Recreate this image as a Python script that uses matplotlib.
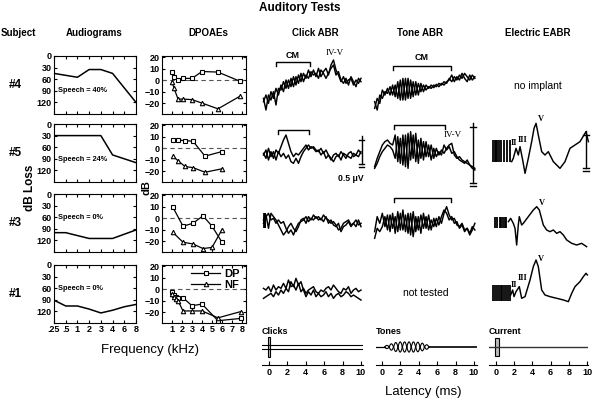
import numpy as np
import matplotlib.pyplot as plt

plt.rcParams.update({'font.family': ['Liberation Sans', 'DejaVu Sans'],
                     'font.weight': 'bold', 'font.size': 7, 'axes.linewidth': 0.8})

# ---------------- audiograms (dB loss per test frequency index) ----------------
aud_labels = ['.25', '.5', '1', '2', '3', '4', '6', '8']
aud4_idx = [0, 2, 3, 4, 5, 7]
aud4_db = [45, 55, 35, 35, 45, 120]
aud5_idx = [0, 4, 5, 7]
aud5_db = [30, 30, 80, 100]
aud3_idx = [0, 1, 3, 5, 7]
aud3_db = [100, 100, 115, 115, 93]
aud1_idx = [0, 1, 2, 3, 4, 5, 6, 7]
aud1_db = [91, 106, 106, 114, 124, 117, 108, 102]
speech = ['40%', '24%', '0%', '0%']
subjects = ['#4', '#5', '#3', '#1']

# ---------------- DPOAEs (f2 kHz, DP level and noise floor dB) ----------------
dp4_f = [1.0, 1.2, 1.6, 2.1, 3.0, 4.0, 5.6, 7.8]
dp4_dp = [7.5, 2.5, 0.5, 1.5, 1.5, 7.5, 7.0, -1.0]
dp4_nf = [-1.5, -7, -16.5, -16.5, -17, -20, -25, -14]
dp5_f = [1.1, 1.6, 2.3, 3.1, 4.3, 6.0]
dp5_dp = [7, 7, 6.5, 6, -7, -3]
dp5_nf = [-7, -11, -16, -17, -21, -18]
dp3_f = [1.1, 2.1, 3.1, 4.1, 5.0, 6.0]
dp3_dp = [9.3, -7, -4.5, 2, -7, -21]
dp3_nf = [-12.5, -21, -22.5, -26.5, -25.5, -10]
dp1_f = [1.0, 1.2, 1.4, 1.6, 2.1, 3.0, 4.0, 5.6, 7.9]
dp1_dp = [-2.5, -5, -7, -8, -7.5, -14.5, -13, -27.5, -25.5]
dp1_nf = [-4, -7, -8.5, -10, -19, -19, -19, -25, -19.5]

# ---------------- ABR traces: depth readings (3 units per px, larger = more negative) --------
click_t = np.linspace(-0.6, 10.0, 40)
tone_t = np.linspace(-0.8, 10.1, 40)
click4_a = [160, 195, 150, 165, 140, 180, 130, 135, 110, 130, 105, 125, 95, 120, 90, 110, 85, 100, 75, 95,
            75, 95, 70, 95, 80, 70, 90, 60, 45, 75, 90, 110, 95, 115, 105, 100, 120, 105, 115, 100]
click4_b = [170, 150, 175, 140, 160, 130, 150, 120, 140, 105, 130, 100, 125, 95, 115, 85, 110, 90, 100, 80,
            90, 85, 100, 75, 85, 100, 85, 70, 60, 90, 80, 105, 115, 100, 120, 95, 110, 125, 100, 110]
click5_a = [330, 315, 345, 320, 340, 315, 325, 305, 285, 270, 295, 320, 335, 325, 330, 320, 310, 300, 315, 305,
            310, 320, 315, 330, 320, 340, 330, 345, 330, 325, 335, 320, 330, 340, 325, 320, 335, 330, 315, 325]
click5_b = [325, 340, 310, 335, 320, 345, 320, 335, 325, 340, 330, 350, 355, 340, 355, 335, 320, 310, 300, 310,
            305, 315, 320, 310, 325, 315, 330, 340, 350, 335, 330, 345, 325, 330, 335, 340, 325, 330, 335, 320]
click3_a = [150, 135, 175, 130, 140, 150, 165, 180, 195, 185, 170, 160, 175, 185, 170, 150, 145, 160, 140, 150,
            135, 145, 140, 150, 135, 145, 150, 160, 155, 165, 180, 175, 160, 155, 150, 165, 160, 150, 165, 160]
click3_b = [160, 140, 130, 150, 145, 160, 150, 160, 155, 175, 190, 180, 195, 175, 160, 155, 150, 140, 155, 145,
            150, 140, 150, 145, 155, 140, 160, 150, 165, 170, 160, 185, 170, 165, 155, 170, 160, 170, 150, 170]
click1_a = [355, 360, 350, 365, 345, 360, 350, 355, 340, 355, 330, 350, 345, 360, 340, 365, 355, 370, 360, 355,
            350, 365, 370, 360, 365, 355, 350, 360, 345, 355, 365, 370, 355, 360, 350, 370, 360, 355, 365, 360]
click1_b = [385, 380, 375, 370, 380, 365, 375, 360, 370, 355, 365, 335, 350, 325, 345, 335, 360, 380, 365, 375,
            360, 380, 370, 380, 375, 365, 380, 370, 385, 375, 370, 380, 375, 365, 370, 380, 375, 380, 385, 390]
tone4_a = [170, 195, 150, 160, 140, 145, 125, 150, 120, 160, 105, 165, 100, 160, 105, 155, 110, 150, 115, 140,
           120, 130, 120, 128, 118, 125, 115, 120, 110, 105, 90, 110, 95, 105, 85, 100, 110, 90, 105, 95]
tone4_b = [190, 160, 175, 135, 150, 130, 150, 120, 155, 110, 165, 100, 165, 100, 160, 110, 150, 115, 140, 120,
           135, 125, 130, 120, 125, 115, 120, 110, 115, 100, 110, 95, 105, 90, 100, 85, 95, 105, 90, 100]
tone5_a = [365, 340, 320, 300, 290, 285, 295, 300, 270, 350, 280, 360, 270, 370, 260, 340, 265, 355, 280, 345,
           290, 335, 300, 340, 310, 330, 315, 325, 310, 300, 295, 330, 340, 335, 345, 350, 355, 360, 365, 370]
tone5_b = [370, 355, 335, 320, 310, 300, 305, 315, 340, 275, 355, 270, 365, 265, 345, 270, 350, 285, 340, 290,
           335, 300, 345, 310, 335, 320, 330, 300, 315, 305, 325, 320, 335, 345, 350, 355, 345, 360, 370, 375]
tone3_a = [185, 140, 160, 130, 170, 135, 185, 130, 190, 125, 180, 120, 185, 130, 195, 125, 185, 140, 190, 130,
           175, 135, 180, 145, 170, 140, 160, 130, 110, 135, 150, 145, 165, 170, 160, 180, 175, 190, 170, 180]
tone3_b = [205, 175, 185, 170, 140, 180, 135, 175, 140, 185, 130, 180, 135, 190, 130, 200, 140, 180, 135, 175,
           140, 180, 150, 170, 145, 165, 140, 120, 130, 150, 140, 160, 155, 175, 165, 185, 175, 195, 180, 160]

# ---------------- electric ABR (latency ms, depth readings) ----------------
eabr5_t = [1.72, 1.90, 2.20, 2.45, 2.64, 2.93, 3.19, 3.55, 3.92, 4.18, 4.40, 4.65, 5.02, 5.38, 5.75,
           6.30, 7.03, 7.58, 8.13, 8.68, 9.23, 9.67, 9.89, 10.15]
eabr5_v = [350, 340, 310, 330, 305, 345, 385, 340, 290, 250, 235, 270, 320, 330, 320,
           350, 370, 350, 310, 300, 290, 270, 260, 290]
eabr3_t = [1.36, 1.61, 1.90, 2.09, 2.27, 2.45, 2.56, 2.82, 3.00, 3.55, 4.10, 4.47, 4.76, 5.20, 5.57,
           5.93, 6.30, 6.67, 7.03, 7.40, 7.77, 8.32, 8.86, 9.41, 9.96]
eabr3_v = [155, 145, 160, 175, 225, 165, 140, 165, 160, 140, 120, 110, 120, 165, 180,
           185, 180, 190, 185, 195, 210, 220, 225, 220, 230]
eabr1_t = [1.61, 1.83, 1.98, 2.20, 2.56, 2.82, 3.19, 3.74, 4.10, 4.40, 4.65, 5.02, 5.38, 5.93, 6.67,
           7.40, 7.95, 8.32, 8.68, 9.23, 9.60, 9.89, 10.04]
eabr1_v = [375, 360, 380, 365, 350, 385, 380, 330, 290, 270, 290, 360, 375, 380, 385,
           390, 395, 370, 350, 335, 320, 310, 315]
art5_t = [-0.3, -0.15, 0.0, 0.15, 0.3, 0.6, 0.9, 1.2, 1.5]
art3_t = [-0.1, 0.15, 0.4, 0.6, 0.8, 1.0, 1.15]
art1_t = [-0.3, -0.1, 0.1, 0.3, 0.5, 0.7, 0.9, 1.1, 1.3, 1.5]
artc3_t = [-0.55, -0.48, -0.41]

# ---------------- stimuli ----------------
tone_lobes = [0.1, 0.2, 0.28, 0.32, 0.32, 0.32, 0.32, 0.3, 0.24, 0.14]
lat_ticks = [0, 2, 4, 6, 8, 10]

W, H = 594, 400
fig = plt.figure(figsize=(W / 100, H / 100), dpi=100)


def add_ax(x0, y0, x1, y1):
    return fig.add_axes([x0 / W, 1 - y1 / H, (x1 - x0) / W, (y1 - y0) / H])


def ftext(x, y, s, **kw):
    kw.setdefault('ha', 'center')
    kw.setdefault('va', 'center')
    fig.text(x / W, 1 - y / H, s, **kw)


# headers
ftext(300, 8, 'Auditory Tests', fontsize=8.5)
for x, s in [(18, 'Subject'), (94, 'Audiograms'), (208, 'DPOAEs'), (315, 'Click ABR'),
             (420, 'Tone ABR'), (538, 'Electric EABR')]:
    ftext(x, 33, s, fontsize=7)

boxes = [(56, 114), (124, 182), (194, 252), (265, 323)]
aud = [(aud4_idx, aud4_db), (aud5_idx, aud5_db), (aud3_idx, aud3_db), (aud1_idx, aud1_db)]
dpo = [(dp4_f, dp4_dp, dp4_nf), (dp5_f, dp5_dp, dp5_nf), (dp3_f, dp3_dp, dp3_nf), (dp1_f, dp1_dp, dp1_nf)]
speech_y = [90, 92, 60, 60]

for i, (top, bot) in enumerate(boxes):
    last = i == 3
    ftext(15, (top + bot) / 2, subjects[i], fontsize=8.5)
    # audiogram
    ax = add_ax(54, top, 136, bot)
    ax.plot(aud[i][0], aud[i][1], color='k', lw=1.1)
    ax.set_xlim(0, 7)
    ax.set_ylim(150, 0)
    ax.set_xticks(range(8))
    ax.set_xticklabels(aud_labels if last else [])
    ax.set_yticks([0, 30, 60, 90, 120])
    ax.tick_params(direction='in', length=2.5, top=True, right=True, labelsize=6.5, pad=1.5)
    ax.text(0.3, speech_y[i], 'Speech = ' + speech[i], fontsize=5.3, va='center')
    # DPOAE
    ax = add_ax(162, top, 246, bot)
    f, dp, nf = dpo[i]
    ax.axhline(0, color='#555555', ls='--', lw=0.8, dashes=(4, 3))
    ax.plot(f, dp, color='k', lw=0.9, marker='s', ms=3.2, mfc='white', mew=0.8, label='DP')
    ax.plot(f, nf, color='k', lw=0.9, marker='^', ms=3.2, mfc='white', mew=0.8, label='NF')
    ax.set_xlim(0, 8.4)
    ax.set_ylim(-29.5, 21)
    ax.set_xticks(range(1, 9))
    if not last:
        ax.set_xticklabels([])
    ax.set_yticks([20, 10, 0, -10, -20])
    ax.tick_params(direction='in', length=2.5, top=True, right=True, labelsize=6.5, pad=1.5)
    if last:
        ax.legend(loc='upper right', bbox_to_anchor=(1.02, 1.06), frameon=False, fontsize=8,
                  handlelength=2.6, handletextpad=0.4, labelspacing=0.05, borderpad=0.2)

ftext(30, 188, 'dB Loss', fontsize=8.5, rotation=90)
ftext(146, 188, 'dB', fontsize=8, rotation=90)
ftext(150, 350, 'Frequency (kHz)', fontsize=9.5, fontweight='normal')

# ---------------- ABR panels ----------------
cols = {'click': (262, 363, -0.76, 10.22), 'tone': (376, 477, -0.65, 10.33),
        'eabr': (489, 588, -0.77, 10.11)}
rows = {4: (40, 120), 5: (118, 190), 3: (190, 258), 1: (258, 322)}
PX_UV = 48.0
serif = ['Liberation Serif', 'DejaVu Serif']


def trace_ax(col, row, base_px):
    x0, x1, t0, t1 = cols[col]
    top, bot = rows[row]
    ax = add_ax(x0, top, x1, bot)
    ax.set_xlim(t0, t1)
    ax.set_ylim((base_px - bot) / PX_UV, (base_px - top) / PX_UV)
    ax.axis('off')
    return ax


def amp(depth, zero):
    return (zero - np.asarray(depth, float)) / (3 * PX_UV)


def draw(ax, t, depth, zero, lw=1.05):
    ax.plot(t, amp(depth, zero), color='k', lw=lw, clip_on=False)


def bracket(ax, t0, t1, y, drop=0.08):
    ax.plot([t0, t0, t1, t1], [y - drop, y, y, y - drop], color='k', lw=1.0, clip_on=False)


def scalebar(ax, t, ytop, ybot):
    ax.plot([t, t], [ybot, ytop + 0.08], color='k', lw=1.0, clip_on=False)
    for y in (ytop, ybot, ybot - 0.06):
        ax.plot([t - 0.3, t + 0.3], [y, y], color='k', lw=1.0, clip_on=False)


def artifact(ax, ts, lo, hi):
    ax.vlines(ts, lo, hi, color='k', lw=1.3)


# click ABR
ax = trace_ax('click', 4, 85)
draw(ax, click_t, click4_a, 120)
draw(ax, click_t, click4_b, 120)
bracket(ax, 0.73, 4.46, 0.48)
ax.text(2.6, 0.62, 'CM', ha='center', va='center', fontsize=6.5)
ax.text(7.1, 0.66, 'IV-V', ha='center', va='center', fontsize=6.5, family=serif, fontweight='normal')

ax = trace_ax('click', 5, 155)
draw(ax, click_t, click5_a, 330)
draw(ax, click_t, click5_b, 330)
bracket(ax, 0.95, 4.3, 0.52)
scalebar(ax, 10.08, 0.31, -0.19)
ax.text(8.9, -0.48, '0.5 μV', ha='center', va='center', fontsize=6.2)

ax = trace_ax('click', 3, 223.3)
artifact(ax, artc3_t, -0.10, 0.21)
draw(ax, click_t, click3_a, 160)
draw(ax, click_t, click3_b, 160)

ax = trace_ax('click', 1, 291.7)
draw(ax, click_t, click1_a, 365)
draw(ax, click_t, click1_b, 365)

# tone ABR
ax = trace_ax('tone', 4, 91.7)
draw(ax, tone_t, tone4_a, 140)
draw(ax, tone_t, tone4_b, 140)
bracket(ax, 1.2, 7.5, 0.54)
ax.text(4.3, 0.71, 'CM', ha='center', va='center', fontsize=6.5)

ax = trace_ax('tone', 5, 155)
draw(ax, tone_t, tone5_a, 330)
draw(ax, tone_t, tone5_b, 330)
bracket(ax, 1.3, 6.9, 0.63)
scalebar(ax, 9.9, 0.58, -0.58)
ax.text(7.7, 0.42, 'IV-V', ha='center', va='center', fontsize=6.5, family=serif, fontweight='normal')

ax = trace_ax('tone', 3, 223.3)
draw(ax, tone_t, tone3_a, 160)
draw(ax, tone_t, tone3_b, 160)
bracket(ax, 1.3, 7.45, 0.53)

ax = trace_ax('tone', 1, 291.7)
ax.text(4.8, -0.02, 'not tested', ha='center', va='center', fontsize=7.5, fontweight='normal')

# electric ABR
ax = trace_ax('eabr', 4, 85)
ax.text(4.6, -0.02, 'no implant', ha='center', va='center', fontsize=7.5, fontweight='normal')

ax = trace_ax('eabr', 5, 155)
artifact(ax, art5_t, -0.14, 0.31)
draw(ax, eabr5_t, eabr5_v, 330)
scalebar(ax, 9.9, 0.42, -0.27)
for t, y, s in [(2.0, 0.25, 'II'), (2.95, 0.32, 'III'), (4.95, 0.74, 'V')]:
    ax.text(t, y, s, ha='center', va='center', fontsize=6, family=serif)

ax = trace_ax('eabr', 3, 225)
artifact(ax, art3_t, -0.07, 0.17)
draw(ax, eabr3_t, eabr3_v, 165)
ax.text(5.0, 0.46, 'V', ha='center', va='center', fontsize=6, family=serif)

ax = trace_ax('eabr', 1, 293.3)
artifact(ax, art1_t, -0.17, 0.17)
draw(ax, eabr1_t, eabr1_v, 370)
for t, y, s in [(2.0, 0.17, 'II'), (2.95, 0.31, 'III'), (4.95, 0.72, 'V')]:
    ax.text(t, y, s, ha='center', va='center', fontsize=6, family=serif)

# ---------------- stimulus row ----------------
def stim_ax(col, label):
    x0, x1, t0, t1 = cols[col]
    ax = add_ax(x0, 322, x1, 365)
    ax.set_xlim(t0, t1)
    ax.set_ylim((347 - 365) / 16, (347 - 322) / 16)
    for s in ('top', 'left', 'right'):
        ax.spines[s].set_visible(False)
    ax.set_yticks([])
    ax.set_xticks(lat_ticks)
    ax.tick_params(axis='x', direction='in', length=3, labelsize=6.5, pad=2)
    ftext(x0, 331, label, ha='left', fontsize=6.5)
    return ax


ax = stim_ax('click', 'Clicks')
ax.plot([-0.76, 10.22], [0.1, 0.1], color='k', lw=0.8)
ax.plot([-0.76, 10.22], [-0.1, -0.1], color='k', lw=0.8)
ax.add_patch(plt.Rectangle((-0.12, -0.6), 0.28, 1.2, facecolor='#bbbbbb', edgecolor='k', lw=0.8))

ax = stim_ax('tone', 'Tones')
lobe_w = 0.48
lobe_start = 0.3
ax.plot([-0.65, lobe_start], [0, 0], color='k', lw=0.9)
ax.plot([lobe_start + lobe_w * len(tone_lobes), 10.33], [0, 0], color='k', lw=1.2)
for k, a in enumerate(tone_lobes):
    t0 = lobe_start + k * lobe_w
    tt = np.linspace(t0, t0 + lobe_w, 15)
    shape = np.sin(np.pi * (tt - t0) / lobe_w)
    ax.plot(tt, a * shape, color='k', lw=0.8)
    ax.plot(tt, -a * shape, color='k', lw=0.8)

ax = stim_ax('eabr', 'Current')
ax.plot([-0.77, 10.11], [0, 0], color='#333333', lw=1.0)
ax.add_patch(plt.Rectangle((-0.1, -0.55), 0.45, 1.1, facecolor='#bbbbbb', edgecolor='k', lw=0.8))

ftext(423, 392, 'Latency (ms)', fontsize=9.5, fontweight='normal')

fig.savefig('out.png', dpi=100)
